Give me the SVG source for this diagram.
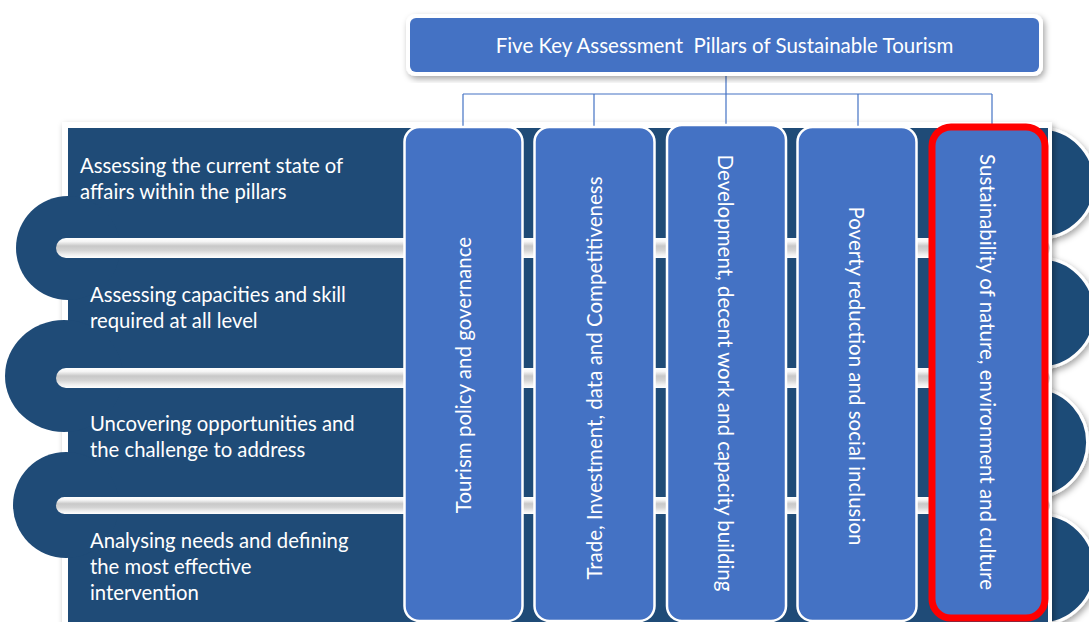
<svg xmlns="http://www.w3.org/2000/svg" width="1089" height="622" viewBox="0 0 1089 622">
  <defs>
    <filter id="shadow" x="-10%" y="-10%" width="120%" height="120%">
      <feDropShadow dx="2" dy="3" stdDeviation="3" flood-color="#000" flood-opacity="0.35"/>
    </filter>
    <linearGradient id="tube" x1="0" y1="0" x2="0" y2="1">
      <stop offset="0" stop-color="#ffffff"/>
      <stop offset="0.18" stop-color="#f5f5f5"/>
      <stop offset="0.4" stop-color="#c8c8c8"/>
      <stop offset="0.62" stop-color="#d4d4d4"/>
      <stop offset="0.82" stop-color="#eeeeee"/>
      <stop offset="1" stop-color="#ffffff"/>
    </linearGradient>
    <style>
      .band { fill: #1F4B77; }
      .cap { fill: #1F4B77; stroke: #ffffff; stroke-width: 3; }
      .tube { fill: url(#tube); }
      .pillar { fill: #4472C4; stroke: #ffffff; stroke-width: 2.5; }
      .step { font-family: Lato, "Liberation Sans", sans-serif; font-size: 20.3px; fill: #ffffff; }
      .ptxt { font-family: Lato, "Liberation Sans", sans-serif; font-size: 20.5px; fill: #ffffff; text-anchor: middle; dominant-baseline: central; }
      .conn { fill: none; stroke: #4472C4; stroke-width: 1.2; }
    </style>
  </defs>

  <rect width="1089" height="622" fill="#ffffff"/>

  <!-- banded panel -->
  <g id="panel">
    <!-- right rounded ends of each band -->
    <g filter="url(#shadow)">
      <path class="cap" d="M1040,128 A55,55 0 0 1 1040,238 Z"/>
      <path class="cap" d="M1040,258 A55,55 0 0 1 1040,368 Z"/>
      <path class="cap" d="M1040,388 A55,55 0 0 1 1040,497 Z"/>
      <path class="cap" d="M1040,514 A55,55 0 0 1 1040,624 Z"/>
    </g>
    <rect x="62" y="122" width="990" height="510" fill="#ffffff" filter="url(#shadow)"/>
    <rect class="band" x="68" y="128" width="980" height="110"/>
    <rect class="band" x="68" y="258" width="980" height="110"/>
    <rect class="band" x="68" y="388" width="980" height="109"/>
    <rect class="band" x="68" y="514" width="980" height="110"/>
    <!-- left loops joining one band to the next -->
    <circle class="band" cx="68" cy="248" r="52"/>
    <ellipse class="band" cx="64" cy="376" rx="59" ry="56"/>
    <circle class="band" cx="66" cy="505" r="53"/>
    <!-- separating tubes -->
    <rect class="tube" x="56" y="238" width="994" height="20" rx="10"/>
    <rect class="tube" x="56" y="368" width="994" height="20" rx="10"/>
    <rect class="tube" x="56" y="497" width="994" height="17" rx="8.5"/>
  </g>

  <g id="step1">
    <text class="step" x="80" y="173">Assessing the current state of</text>
    <text class="step" x="80" y="199">affairs within the pillars</text>
  </g>
  <g id="step2">
    <text class="step" x="90" y="302">Assessing capacities and skill</text>
    <text class="step" x="90" y="328">required at all level</text>
  </g>
  <g id="step3">
    <text class="step" x="90" y="431">Uncovering opportunities and</text>
    <text class="step" x="90" y="457">the challenge to address</text>
  </g>
  <g id="step4">
    <text class="step" x="90" y="548">Analysing needs and defining</text>
    <text class="step" x="90" y="574">the most effective</text>
    <text class="step" x="90" y="600">intervention</text>
  </g>

  <!-- connectors from title to pillars -->
  <g id="connectors">
    <path class="conn" d="M726,73 V94"/>
    <path class="conn" d="M463,94 H992"/>
    <path class="conn" d="M463,94 V127"/>
    <path class="conn" d="M594,94 V127"/>
    <path class="conn" d="M726,94 V125"/>
    <path class="conn" d="M858,94 V127"/>
    <path class="conn" d="M992,94 V124"/>
  </g>

  <g id="title">
    <rect x="406" y="14" width="637" height="62" rx="9" fill="#ffffff" filter="url(#shadow)"/>
    <rect x="410" y="18" width="629" height="54" rx="6" fill="#4472C4"/>
    <text x="724.5" y="45" class="ptxt" xml:space="preserve">Five Key Assessment  Pillars of Sustainable Tourism</text>
  </g>

  <g id="pillar1">
    <rect class="pillar" x="404.5" y="127" width="118" height="494" rx="15"/>
    <text class="ptxt" transform="translate(463,375) rotate(-90)">Tourism policy and governance</text>
  </g>
  <g id="pillar2">
    <rect class="pillar" x="534.5" y="127" width="120" height="494" rx="15"/>
    <text class="ptxt" transform="translate(594,378) rotate(-90)">Trade, Investment, data and Competitiveness</text>
  </g>
  <g id="pillar3">
    <rect class="pillar" x="667" y="125" width="119" height="496" rx="15"/>
    <text class="ptxt" transform="translate(726,373) rotate(90)">Development, decent work and capacity building</text>
  </g>
  <g id="pillar4">
    <rect class="pillar" x="797.5" y="127" width="119" height="494" rx="15"/>
    <text class="ptxt" transform="translate(857,376) rotate(90)">Poverty reduction and social inclusion</text>
  </g>
  <g id="pillar5">
    <rect x="932" y="127" width="113" height="491" rx="19" fill="#4472C4" stroke="#FF0000" stroke-width="7"/>
    <text class="ptxt" transform="translate(988,372) rotate(90)">Sustainability of nature, environment and culture</text>
  </g>
</svg>
